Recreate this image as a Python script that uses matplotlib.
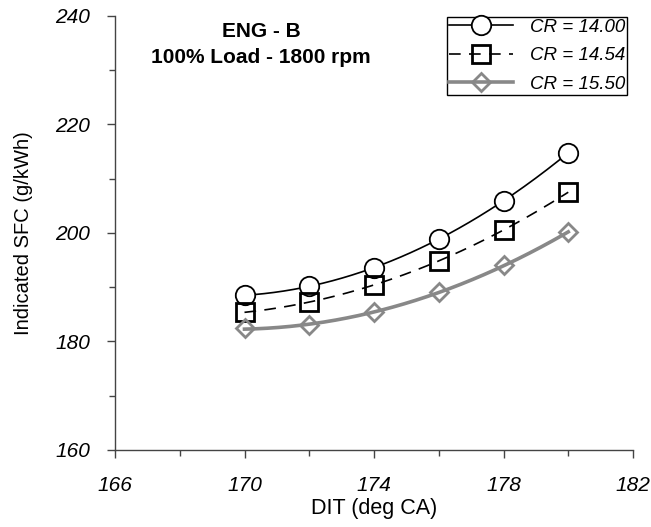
import numpy as np
import matplotlib
matplotlib.use("Agg")
import matplotlib.pyplot as plt
from matplotlib.lines import Line2D

plt.rcParams["font.family"] = ["Liberation Sans", "DejaVu Sans"]

# datos
dit = [170, 172, 174, 176, 178, 180]
sfc_cr1400 = [188.5, 190.2, 193.6, 198.9, 205.9, 214.8]
sfc_cr1454 = [185.4, 187.2, 190.5, 194.8, 200.6, 207.5]
sfc_cr1550 = [182.4, 183.0, 185.4, 189.1, 194.1, 200.1]
labels = ["CR = 14.00", "CR = 14.54", "CR = 15.50"]

GRAY = "#888888"
SPINE = "#444444"

fig = plt.figure(figsize=(6.51, 5.27), dpi=100)
ax = fig.add_axes([115 / 651, 1 - 450 / 527, 518 / 651, 434 / 527])

xs = np.linspace(170, 180, 200)
styles = [
    dict(marker="o", ms=14, mfc="white", mec="black", mew=1.3, color="black", lw=1.2, ls="-"),
    dict(marker="s", ms=12.5, mfc="none", mec="black", mew=2.0, color="black", lw=1.2, ls=(0, (7, 5))),
    dict(marker="D", ms=9, mfc="none", mec=GRAY, mew=2.0, color=GRAY, lw=2.6, ls="-"),
]
handles = []
for y, st in zip([sfc_cr1400, sfc_cr1454, sfc_cr1550], styles):
    # línea de tendencia polinómica (2º orden) como en la hoja de cálculo
    p = np.polyfit(dit, y, 2)
    ax.plot(xs, np.polyval(p, xs), color=st["color"], lw=st["lw"], ls=st["ls"], zorder=2)
    ax.plot(dit, y, ls="none", marker=st["marker"], ms=st["ms"], mfc=st["mfc"],
            mec=st["mec"], mew=st["mew"], zorder=3)
    handles.append(Line2D([], [], color=st["color"], lw=st["lw"], ls=st["ls"],
                          marker=st["marker"], ms=st["ms"], mfc=st["mfc"],
                          mec=st["mec"], mew=st["mew"]))

ax.set_xlim(166, 182)
ax.set_ylim(160, 240)
ax.set_xticks([166, 170, 174, 178, 182])
ax.set_xticks([168, 172, 176, 180], minor=True)
ax.set_yticks([160, 180, 200, 220, 240])
ax.set_yticks([170, 190, 210, 230], minor=True)
for s in ("top", "right"):
    ax.spines[s].set_visible(False)
for s in ("left", "bottom"):
    ax.spines[s].set_color(SPINE)
    ax.spines[s].set_linewidth(1.0)
ax.tick_params(which="major", length=6, width=1, color=SPINE, labelsize=15)
ax.tick_params(which="minor", length=4, width=1, color=SPINE)
ax.tick_params(axis="x", which="major", pad=13)
ax.tick_params(axis="y", which="major", pad=12)
for t in ax.get_xticklabels() + ax.get_yticklabels():
    t.set_fontstyle("italic")

ax.set_xlabel("DIT (deg CA)", fontsize=15.5, labelpad=2)
ax.set_ylabel("Indicated SFC (g/kWh)", fontsize=14.5, labelpad=16)

ax.text(0.282, 0.965, "ENG - B", transform=ax.transAxes, ha="center", va="center",
        fontsize=15, fontweight="bold")
ax.text(0.282, 0.905, "100% Load - 1800 rpm", transform=ax.transAxes, ha="center",
        va="center", fontsize=15, fontweight="bold")

leg = ax.legend(handles, labels, loc="upper right", bbox_to_anchor=(627 / 651, 1 - 17 / 527),
                bbox_transform=fig.transFigure, frameon=True, fancybox=False,
                edgecolor="black", framealpha=1, borderpad=0.1, borderaxespad=0,
                handlelength=3.4, handletextpad=0.9, labelspacing=0.6,
                prop=dict(size=13.5, style="italic"))
leg.get_frame().set_linewidth(1.0)

fig.savefig("out.png", dpi=100)
